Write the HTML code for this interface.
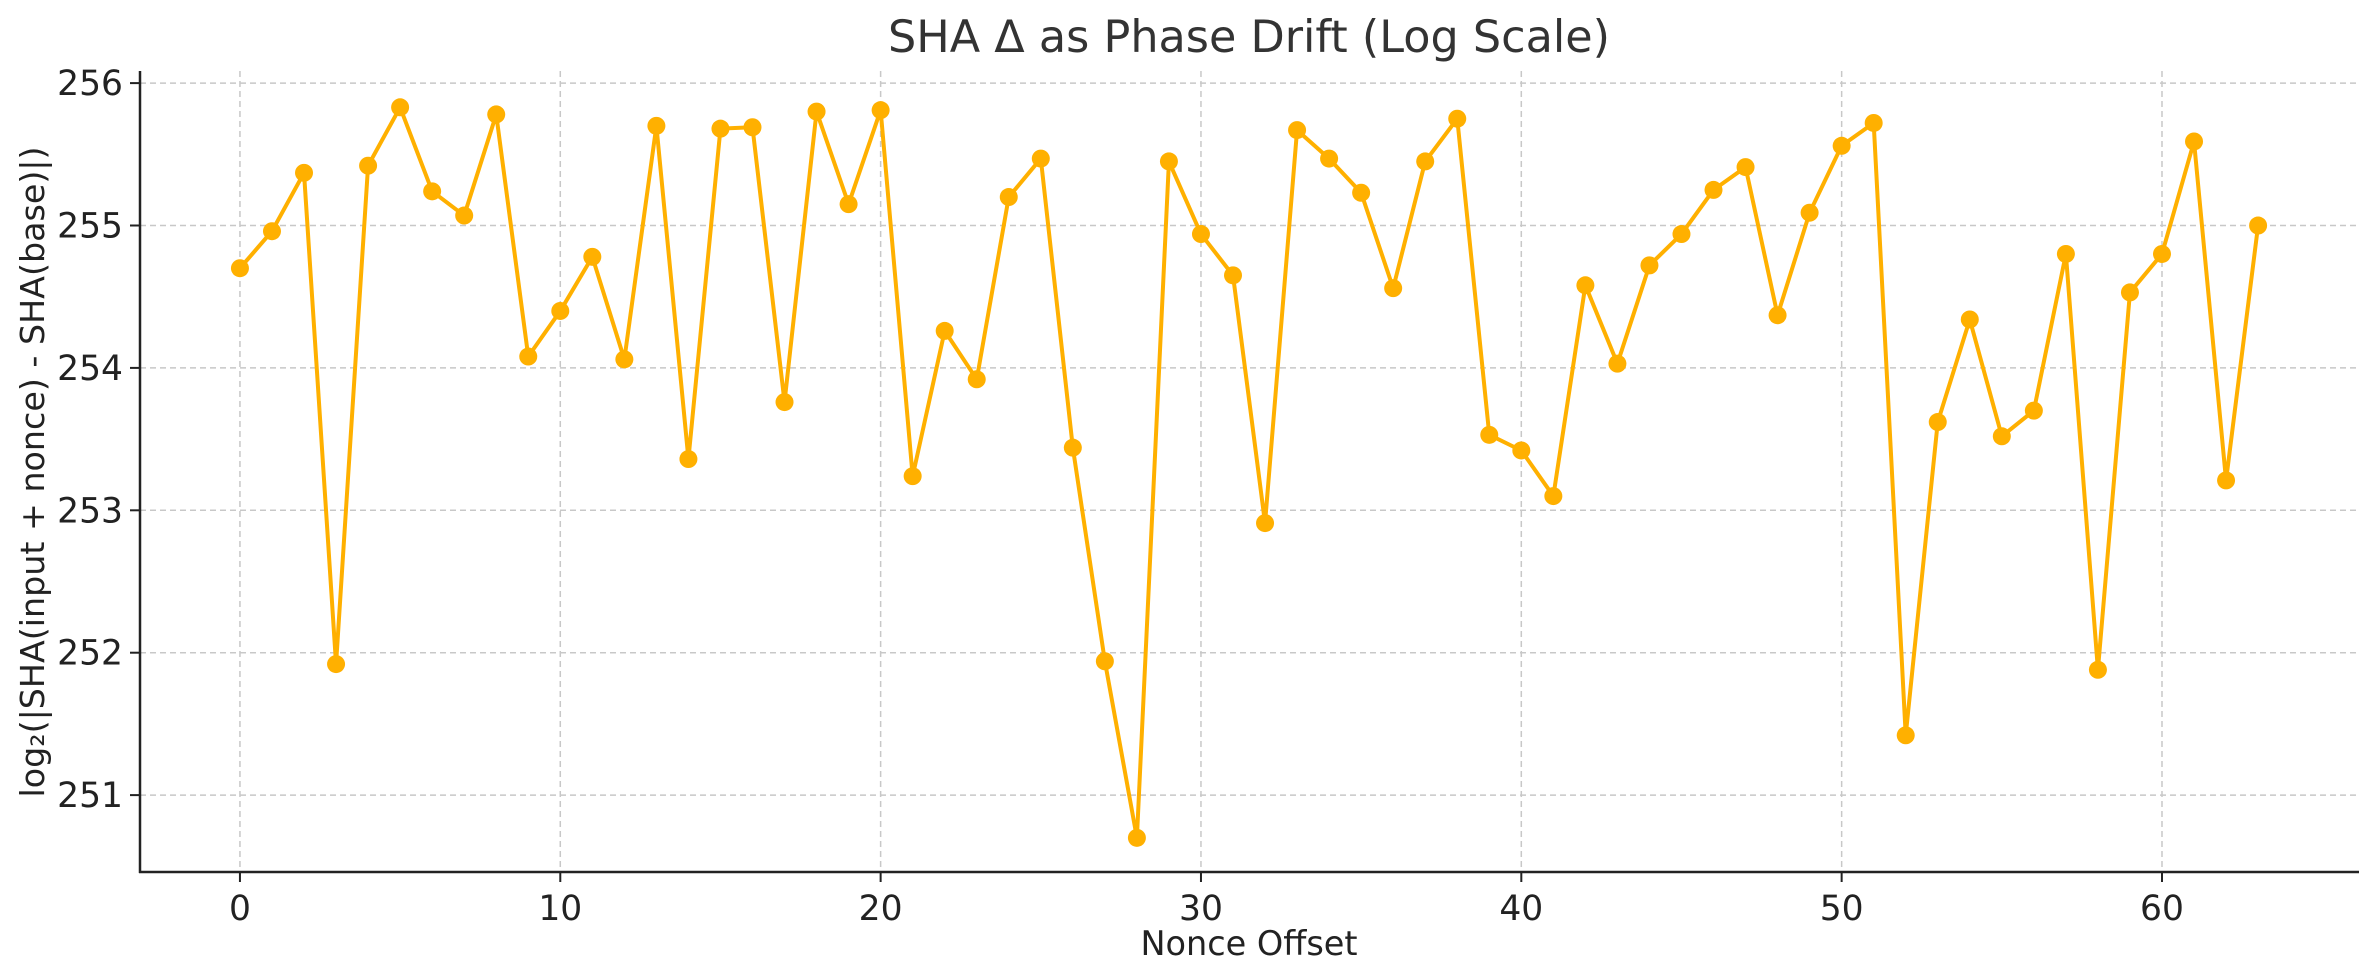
<!DOCTYPE html>
<html><head><meta charset="utf-8"><style>
html,body{margin:0;padding:0;background:#fff;}
svg{display:block;font-family:"DejaVu Sans","Liberation Sans",sans-serif;}
</style></head><body>
<svg id="chart" width="2379" height="980" viewBox="0 0 2379 980">
<text x="1249" y="52" text-anchor="middle" font-size="44.5" fill="#333">SHA Δ as Phase Drift (Log Scale)</text>
<g id="grid"></g>
<g id="axes"></g>
<g id="series"></g>
<text x="1249" y="955" text-anchor="middle" font-size="33.5" fill="#222">Nonce Offset</text>
<text transform="translate(44,472) rotate(-90)" text-anchor="middle" font-size="33.3" fill="#222">log₂(|SHA(input + nonce) - SHA(base)|)</text>
</svg>
<script>
const values = [254.70,254.96,255.37,251.92,255.42,255.83,255.24,255.07,255.78,254.08,254.40,254.78,254.06,255.70,253.36,255.68,255.69,253.76,255.80,255.15,255.81,253.24,254.26,253.92,255.20,255.47,253.44,251.94,250.70,255.45,254.94,254.65,252.91,255.67,255.47,255.23,254.56,255.45,255.75,253.53,253.42,253.10,254.58,254.03,254.72,254.94,255.25,255.41,254.37,255.09,255.56,255.72,251.42,253.62,254.34,253.52,253.70,254.80,251.88,254.53,254.80,255.59,253.21,255.00];
const xTicks = [0,10,20,30,40,50,60];
const yTicks = [251,252,253,254,255,256];
const L=140,R=2359,T=71,B=872;
const xMin=-3.12,xMax=66.15,yMin=250.46,yMax=256.085;
function xs(v){return L+(v-xMin)/(xMax-xMin)*(R-L);}
function ys(v){return B-(v-yMin)/(yMax-yMin)*(B-T);}
const NS="http://www.w3.org/2000/svg";
function mk(tag,attrs,parent){const e=document.createElementNS(NS,tag);for(const k in attrs)e.setAttribute(k,attrs[k]);parent.appendChild(e);return e;}
const grid=document.getElementById('grid'),axes=document.getElementById('axes'),series=document.getElementById('series');
xTicks.forEach(t=>{
  const x=xs(t);
  const g=mk('line',{x1:x,x2:x,y1:T,y2:B,stroke:'#c8c8c8','stroke-width':1.5,'stroke-dasharray':'6,4'},grid);
  
  
  const tk=mk('line',{x1:x,x2:x,y1:B,y2:B+10,stroke:'#222','stroke-width':2},axes);
  
  
  const lb=mk('text',{x:x,y:B+48,'text-anchor':'middle','font-size':34.5,fill:'#222'},axes);
  lb.textContent=t;
  
  
});
yTicks.forEach(t=>{
  const y=ys(t);
  const g=mk('line',{x1:L,x2:R,y1:y,y2:y,stroke:'#c8c8c8','stroke-width':1.5,'stroke-dasharray':'6,4'},grid);
  
  
  const tk=mk('line',{x1:L-10,x2:L,y1:y,y2:y,stroke:'#222','stroke-width':2},axes);
  
  
  const lb=mk('text',{x:L-17,y:y+12,'text-anchor':'end','font-size':34.5,fill:'#222'},axes);
  lb.textContent=t;
  
  
});
const sl=mk('line',{x1:L,x2:L,y1:T,y2:B+1,stroke:'#222','stroke-width':2.5},axes);


const sb=mk('line',{x1:L-1,x2:R,y1:B,y2:B,stroke:'#222','stroke-width':2.5},axes);


const pts=values.map((v,i)=>xs(i)+','+ys(v)).join(' ');
const pl=mk('polyline',{points:pts,fill:'none',stroke:'#FFB000','stroke-width':4,'stroke-linejoin':'round'},series);


values.forEach((v,i)=>{
  const c=mk('circle',{cx:xs(i),cy:ys(v),r:9,fill:'#FFB000'},series);
  
  
});
</script>
</body></html>
